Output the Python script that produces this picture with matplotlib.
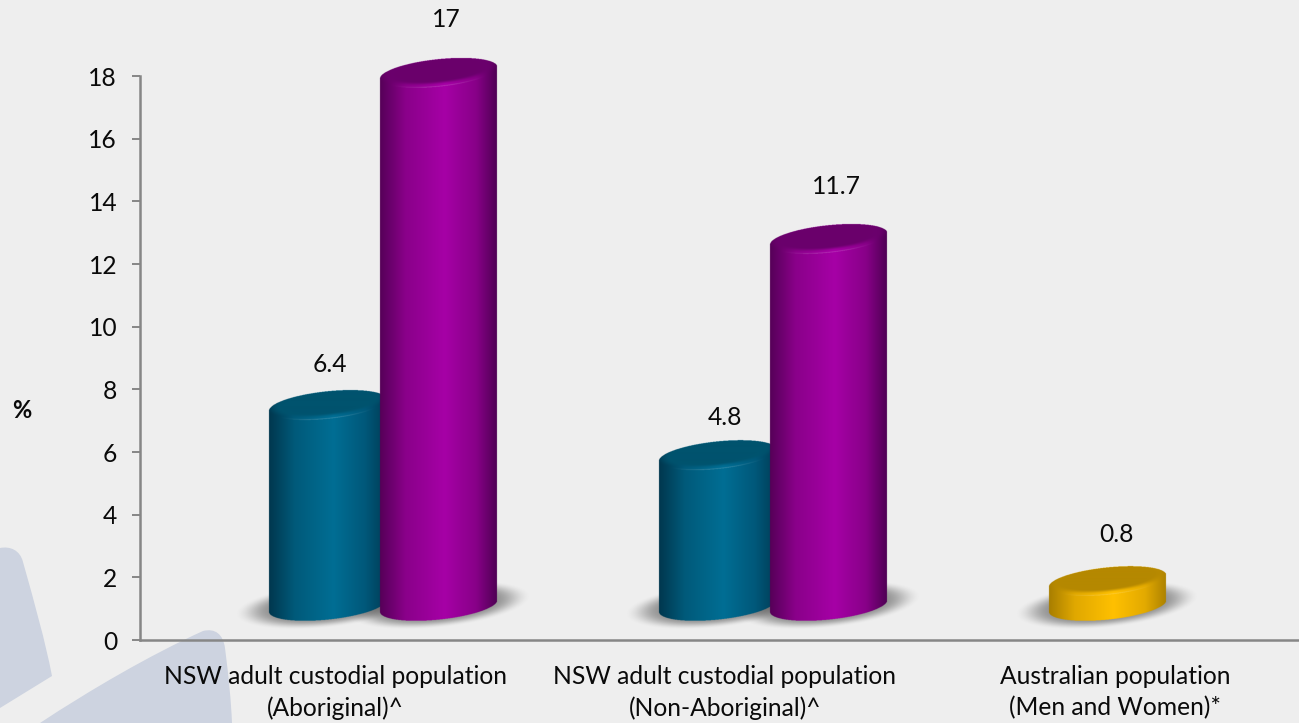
"""Share of population by group, drawn as shaded 3D-style cylinders."""

import matplotlib

matplotlib.use("Agg")
import matplotlib.pyplot as plt
import numpy as np
from matplotlib.patches import PathPatch
from matplotlib.path import Path

# --- Data ---------------------------------------------------------------

CATEGORIES = [
    "NSW adult custodial population\n(Aboriginal)^",
    "NSW adult custodial population\n(Non-Aboriginal)^",
    "Australian population\n(Men and Women)*",
]
TEAL_VALUES = [6.4, 4.8]
PURPLE_VALUES = [17, 11.7]
GOLD_VALUES = [0.8]
Y_TICKS = [0, 2, 4, 6, 8, 10, 12, 14, 16, 18]

# --- Layout -------------------------------------------------------------

FIG_W, FIG_H = 1299, 723
AX_LEFT, AX_BOTTOM_Y, AX_TOP_Y = 140, 640, 76
CAT_STEP = 390  # px per category
PX_PER_UNIT = (AX_BOTTOM_Y - AX_TOP_Y) / 18

BASE_PX = 34  # cylinders stand this far above the floor of the chart
OFFSET_A = -8  # px from category centre
OFFSET_B = 104
HALF_W = 58.5
TILT = np.radians(6)
ELL_A = 59.0
ELL_B = 13.7
SS = 3  # supersampling of the cylinder images

BG = "#eeeeee"
AXIS = "#868686"
INK = "#0a0a0a"
WATERMARK = "#cdd3e0"
FONT_SIZE = 17.7

TEAL = {
    "stops": ["#00374e", "#005a7a", "#006e94", "#00587a", "#003d56"],
    "top": "#00536e",
}
PURPLE = {
    "stops": ["#560058", "#8a008a", "#a600a6", "#880088", "#4f0054"],
    "top": "#6a006c",
}
GOLD = {
    "stops": ["#a87e00", "#e0a800", "#ffc000", "#e3aa00", "#ad8200"],
    "top": "#b58800",
}
STOP_POS = [0.0, 0.22, 0.55, 0.82, 1.0]


def rgb(hex_colour):
    return np.array(matplotlib.colors.to_rgb(hex_colour))


def smoothstep(lo, hi, v):
    t = np.clip((v - lo) / (hi - lo), 0, 1)
    return t * t * (3 - 2 * t)


def ellipse_arcs(x):
    """Lower and upper y of the tilted ellipse at each x."""
    s, c = np.sin(TILT), np.cos(TILT)
    qa = s**2 / ELL_A**2 + c**2 / ELL_B**2
    qb = 2 * x * s * c * (1 / ELL_A**2 - 1 / ELL_B**2)
    qc = x**2 * (c**2 / ELL_A**2 + s**2 / ELL_B**2) - 1
    root = np.sqrt(np.clip(qb**2 - 4 * qa * qc, 0, None))
    return (-qb - root) / (2 * qa), (-qb + root) / (2 * qa)


def ellipse_radius(x, y, a=ELL_A, b=ELL_B):
    s, c = np.sin(TILT), np.cos(TILT)
    u = x * c + y * s
    v = -x * s + y * c
    return np.sqrt((u / a) ** 2 + (v / b) ** 2)


def draw_shadow(ax, x_data, zorder=1):
    base = BASE_PX / PX_PER_UNIT
    xs = np.arange(-104, 104.5, 1.0)
    ys = np.arange(-34, 34.5, 1.0)
    gx, gy = np.meshgrid(xs, ys)
    r = ellipse_radius(gx, gy - 1, a=93, b=23)
    alpha = 0.58 * (1 - smoothstep(0.6, 1.0, r))
    img = np.zeros(gx.shape + (4,))
    img[..., :3] = 0.33
    img[..., 3] = alpha
    extent = (
        x_data + xs[0] / CAT_STEP,
        x_data + xs[-1] / CAT_STEP,
        base + ys[0] / PX_PER_UNIT,
        base + ys[-1] / PX_PER_UNIT,
    )
    im = ax.imshow(img, origin="lower", extent=extent, aspect="auto",
                   interpolation="bilinear", zorder=zorder)
    im.set_clip_on(False)


def draw_cylinder(ax, x_data, value, palette, zorder):
    base = BASE_PX / PX_PER_UNIT
    height = value * PX_PER_UNIT
    pad = 20
    xs = np.arange(-HALF_W - 3, HALF_W + 3, 1 / SS)
    ys = np.arange(-pad, height + pad, 1 / SS)
    gx, gy = np.meshgrid(xs, ys)

    # horizontal lighting across the curved side
    t = np.clip((gx + HALF_W) / (2 * HALF_W), 0, 1)
    stops = np.array([rgb(c) for c in palette["stops"]])
    side = np.stack([np.interp(t, STOP_POS, stops[:, i]) for i in range(3)], axis=-1)

    low, high = ellipse_arcs(gx)
    inside_x = np.abs(gx) <= HALF_W
    body = inside_x & (gy >= low) & (gy <= high + height)
    cap = inside_x & (gy >= low + height) & (gy <= high + height)

    # cap: dark centre, bevel blending into the side colour at the front edge
    top_rgb = rgb(palette["top"])
    shifted = ellipse_radius(gx, gy - height - 3.0)
    mix = smoothstep(0.78, 1.08, shifted)[..., None]
    cap_rgb = top_rgb * (1 - mix) + side * mix
    edge = ellipse_radius(gx, gy - height)
    front = (gy - height) < (gx * np.tan(TILT))
    centred = 1 - smoothstep(0.15, 0.85, np.abs(gx) / HALF_W)
    glow = (smoothstep(0.90, 0.99, edge) * front * centred)[..., None] * 0.2
    cap_rgb = cap_rgb * (1 - glow) + glow

    img = np.zeros(gx.shape + (4,))
    img[..., :3] = np.where(cap[..., None], cap_rgb, side)
    img[..., 3] = body.astype(float)
    extent = (
        x_data + xs[0] / CAT_STEP,
        x_data + xs[-1] / CAT_STEP,
        base + ys[0] / PX_PER_UNIT,
        base + ys[-1] / PX_PER_UNIT,
    )
    im = ax.imshow(img, origin="lower", extent=extent, aspect="auto",
                   interpolation="hanning", interpolation_stage="rgba", zorder=zorder)
    im.set_clip_on(False)


def draw_watermark(fig):
    bg_ax = fig.add_axes([0, 0, 1, 1], zorder=-1)
    bg_ax.set_xlim(0, FIG_W)
    bg_ax.set_ylim(FIG_H, 0)
    bg_ax.axis("off")
    left_blade = Path(
        [(0, 548), (10, 546), (20, 550), (23, 562), (35, 605), (45, 640), (52, 676),
         (0, 708), (0, 548)],
        [Path.MOVETO, Path.CURVE4, Path.CURVE4, Path.CURVE4, Path.CURVE4, Path.CURVE4,
         Path.CURVE4, Path.LINETO, Path.CLOSEPOLY],
    )
    right_blade = Path(
        [(40, 723), (90, 690), (150, 655), (203, 631), (215, 628), (223, 634), (225, 648),
         (229, 680), (231, 700), (232, 723), (40, 723)],
        [Path.MOVETO, Path.CURVE4, Path.CURVE4, Path.CURVE4, Path.CURVE4, Path.CURVE4,
         Path.CURVE4, Path.CURVE4, Path.CURVE4, Path.CURVE4, Path.CLOSEPOLY],
    )
    for path in (left_blade, right_blade):
        bg_ax.add_patch(PathPatch(path, facecolor=WATERMARK, edgecolor="none"))


def main():
    plt.rcParams["font.family"] = ["Lato", "DejaVu Sans"]
    fig = plt.figure(figsize=(FIG_W / 100, FIG_H / 100), dpi=100, facecolor=BG)
    draw_watermark(fig)

    ax = fig.add_axes([
        AX_LEFT / FIG_W,
        (FIG_H - AX_BOTTOM_Y) / FIG_H,
        (FIG_W - AX_LEFT) / FIG_W,
        (AX_BOTTOM_Y - AX_TOP_Y) / FIG_H,
    ])
    ax.patch.set_visible(False)
    ax.set_xlim(0, (FIG_W - AX_LEFT) / CAT_STEP)
    ax.set_ylim(0, 18)
    ax.set_autoscale_on(False)

    centres = [0.5, 1.5, 2.5]
    teal_x = [centres[i] + OFFSET_A / CAT_STEP for i in range(2)]
    purple_x = [centres[i] + OFFSET_B / CAT_STEP for i in range(2)]
    gold_x = [centres[2] + OFFSET_A / CAT_STEP]

    for x in teal_x + purple_x + gold_x:
        draw_shadow(ax, x)
    for x, v in zip(teal_x, TEAL_VALUES):
        draw_cylinder(ax, x, v, TEAL, zorder=3)
    for x, v in zip(purple_x, PURPLE_VALUES):
        draw_cylinder(ax, x, v, PURPLE, zorder=4)
    for x, v in zip(gold_x, GOLD_VALUES):
        draw_cylinder(ax, x, v, GOLD, zorder=3)

    # value labels sit a varying distance above each cap (dx, gap in px)
    base = BASE_PX / PX_PER_UNIT
    bars = [
        (teal_x[0], TEAL_VALUES[0], 3, 41),
        (purple_x[0], PURPLE_VALUES[0], 7, 54),
        (teal_x[1], TEAL_VALUES[1], 8, 38),
        (purple_x[1], PURPLE_VALUES[1], 7, 53),
        (gold_x[0], GOLD_VALUES[0], 10, 46),
    ]
    for x, v, dx, gap in bars:
        ax.text(x + dx / CAT_STEP, base + v + gap / PX_PER_UNIT, f"{v:g}",
                ha="center", va="center", fontsize=FONT_SIZE, color=INK,
                clip_on=False, zorder=6)

    ax.spines["top"].set_visible(False)
    ax.spines["right"].set_visible(False)
    for side in ("left", "bottom"):
        ax.spines[side].set_color(AXIS)
        ax.spines[side].set_linewidth(1.8)
    ax.set_yticks(Y_TICKS)
    ax.tick_params(axis="y", length=6, width=1.4, color=AXIS, pad=10.5,
                   labelsize=FONT_SIZE, labelcolor=INK)
    ax.set_xticks(centres)
    ax.set_xticklabels(CATEGORIES, fontsize=FONT_SIZE, color=INK, linespacing=1.43)
    ax.tick_params(axis="x", length=0, pad=18)

    fig.text(22 / FIG_W, 1 - 411 / FIG_H, "%", fontsize=17, fontweight="bold",
             ha="center", va="center", color=INK)

    fig.savefig("out.png", dpi=100, facecolor=BG)


if __name__ == "__main__":
    main()
